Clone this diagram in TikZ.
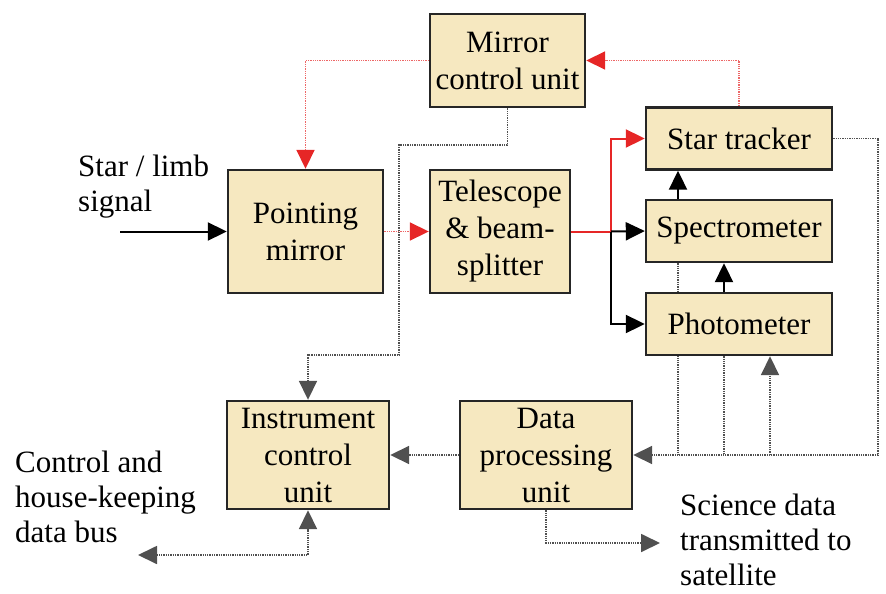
\documentclass[tikz,border=0pt]{standalone}
\usepackage{fontspec}
\setmainfont{Liberation Serif}
\usetikzlibrary{arrows.meta,backgrounds}
\definecolor{boxfill}{RGB}{246,232,192}
\definecolor{sigred}{RGB}{230,38,38}
\definecolor{busgray}{RGB}{80,80,80}

\tikzset{
  x=1pt, y=-1pt,
  unit/.style={draw=black!85, line width=2.4pt, fill=boxfill, align=center,
    inner sep=0pt, font=\fontsize{31}{37}\selectfont},
  label/.style={align=left, inner sep=0pt, anchor=west,
    font=\fontsize{31}{35}\selectfont},
  tiphead/.tip={Triangle[length=19pt,width=18pt]},
  tip/.style={-tiphead},
  redtip/.style={-{Triangle[length=19pt,width=18pt,color=sigred]}},
  optline/.style={line width=2pt, black},
  redline/.style={line width=2pt, sigred},
  reddot/.style={line width=1.8pt, sigred!70, dash pattern=on 1.3pt off 1pt},
  busline/.style={line width=1.8pt, busgray, dash pattern=on 1.3pt off 1pt},
}

\begin{document}
\begin{tikzpicture}
\useasboundingbox (0,0) rectangle (886,594);

% units
\node[unit, minimum width=155pt, minimum height=93pt]  (mcu)  at (507.5,60.5) {Mirror\\control unit};
\node[unit, minimum width=155pt, minimum height=123pt] (pm)   at (305.5,231.5) {Pointing\\mirror};
\node[unit, minimum width=140pt, minimum height=123pt] (tele) at (500,231.5) {Telescope\\\& beam-\\splitter};
\node[unit, minimum width=186pt, minimum height=62pt]  (st)   at (739,138.5) {Star tracker};
\node[unit, minimum width=186pt, minimum height=62pt]  (spec) at (739,231) {Spectrometer};
\node[unit, minimum width=186pt, minimum height=62pt]  (phot) at (739,324) {Photometer};
\node[unit, minimum width=162pt, minimum height=108pt] (icu)  at (308,455) {Instrument\\control\\unit};
\node[unit, minimum width=172pt, minimum height=108pt] (dpu)  at (546,455) {Data\\processing\\unit};

% free texts
\node[label] (sig) at (78,186.5) {Star / limb\\signal};
\node[label] (hk)  at (15,497) {Control and\\house-keeping\\data bus};
\node[label] (sci) at (680,540) {Science data\\transmitted to\\satellite};

% route points
\coordinate (in)   at (120,231.5);
\coordinate (sp)   at (611,231.5);
\coordinate (b1)   at (399,145);
\coordinate (b2)   at (399,355);
\coordinate (rc)   at (878,455);
\coordinate (bus)  at (138,555);
\coordinate (out)  at (660,543);

\begin{pgfonlayer}{background}
  % optical path
  \draw[optline, tip] (in) -- (pm.west);
  \draw[reddot, redtip] (pm.east) -- (tele.west);
  \draw[redline] (tele.east) -- (sp);
  \draw[redline, redtip] (sp) |- (st.west);
  \draw[optline, tip] (sp) -- (spec.west);
  \draw[optline, tip] (sp) |- (phot.west);
  \draw[optline, tip] ([xshift=-61pt]spec.north) -- ([xshift=-61pt]st.south);
  \draw[optline, tip] ([xshift=-15pt]phot.north) -- ([xshift=-15pt]spec.south);

  % mirror control loop
  \draw[reddot, redtip] (st.north) |- (mcu.east);
  \draw[reddot, redtip] (mcu.west) -| (pm.north);

  % control and data buses
  \draw[busline, tip] (mcu.south) |- (b1) -- (b2) -| (icu.north);
  \draw[busline, tip] (st.east) -| (rc) -- (dpu.east);
  \draw[busline] ([xshift=-61pt]spec.south) -- ([xshift=-61pt]spec.south |- dpu.east);
  \draw[busline] ([xshift=-15pt]phot.south) -- ([xshift=-15pt]phot.south |- dpu.east);
  \draw[busline, tip] ([xshift=31pt]phot.south |- dpu.east) -- ([xshift=31pt]phot.south);
  \draw[busline, tip] (dpu.west) -- (icu.east);
  \draw[busline, tiphead-tiphead] (bus) -| (icu.south);
  \draw[busline, tip] (dpu.south) |- (out);
\end{pgfonlayer}
\end{tikzpicture}
\end{document}
